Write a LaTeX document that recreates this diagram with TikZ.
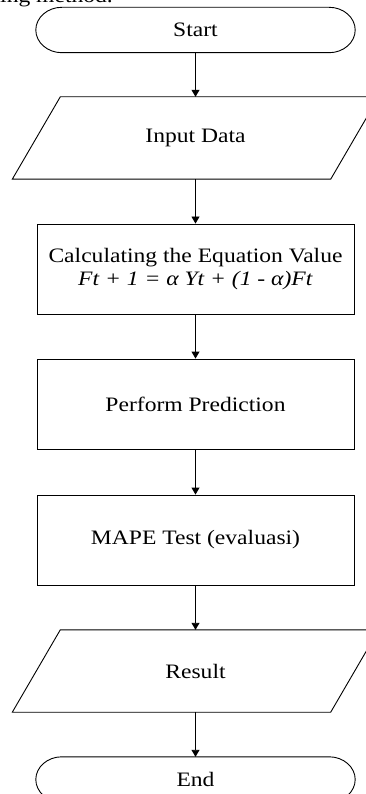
\documentclass[tikz,border=0pt]{standalone}
\usepackage{fontspec}
\setmainfont[FakeStretch=1.15]{Liberation Serif}
\usetikzlibrary{arrows.meta,calc}
\newcommand\drawterminal[1]{%
  \draw[outline] ($(#1.north west)+(26,0)$) -- ($(#1.north east)+(-26,0)$)
    .. controls +(14.35,0) and +(0,-12.4) .. (#1.east)
    .. controls +(0,12.4) and +(14.35,0) .. ($(#1.south east)+(-26,0)$)
    -- ($(#1.south west)+(26,0)$)
    .. controls +(-14.35,0) and +(0,12.4) .. (#1.west)
    .. controls +(0,-12.4) and +(-14.35,0) .. ($(#1.north west)+(26,0)$) -- cycle;}
\newcommand\drawio[1]{%
  \draw[outline] ($(#1.north west)+(24,0)$) -- ($(#1.north east)+(24,0)$)
    -- ($(#1.south east)+(-24,0)$) -- ($(#1.south west)+(-24,0)$) -- cycle;}
\begin{document}
\begin{tikzpicture}[x=1pt,y=-1pt,
  outline/.style={draw=black, line width=0.9pt},
  txt/.style={font=\fontsize{20.5}{23}\selectfont, align=center, inner sep=0pt},
  term/.style={txt, minimum width=319pt, minimum height=45pt},
  io/.style={txt, minimum width=318pt, minimum height=82pt},
  proc/.style={txt, draw=black, line width=0.9pt, minimum width=317pt, minimum height=90pt},
  flow/.style={line width=0.9pt, -{Triangle[length=7pt,width=8pt]}}]
\useasboundingbox (0,0) rectangle (366,794);
\clip (0,0) rectangle (366,794);
\node[txt, anchor=base west] (cap) at (0,3) {ing method.};
\node[term] (start) at (195.5,30) {Start};
\node[io] (in) at (195.5,138) {Input Data};
\node[proc] (calc) at (195.5,269) {Calculating the Equation Value\\\textit{Ft + 1 = α Yt + (1 - α)Ft}};
\node[proc] (pred) at (195.5,404) {Perform Prediction};
\node[proc] (mape) at (195.5,540) {MAPE Test (evaluasi)};
\node[io] (res) at (195.5,671) {Result};
\node[term] (end) at (195.5,779.5) {End};
\drawterminal{start}
\drawio{in}
\drawio{res}
\drawterminal{end}
\draw[flow] (start.south) -- (in.north);
\draw[flow] (in.south) -- (calc.north);
\draw[flow] (calc.south) -- (pred.north);
\draw[flow] (pred.south) -- (mape.north);
\draw[flow] (mape.south) -- (res.north);
\draw[flow] (res.south) -- (end.north);
\end{tikzpicture}
\end{document}
